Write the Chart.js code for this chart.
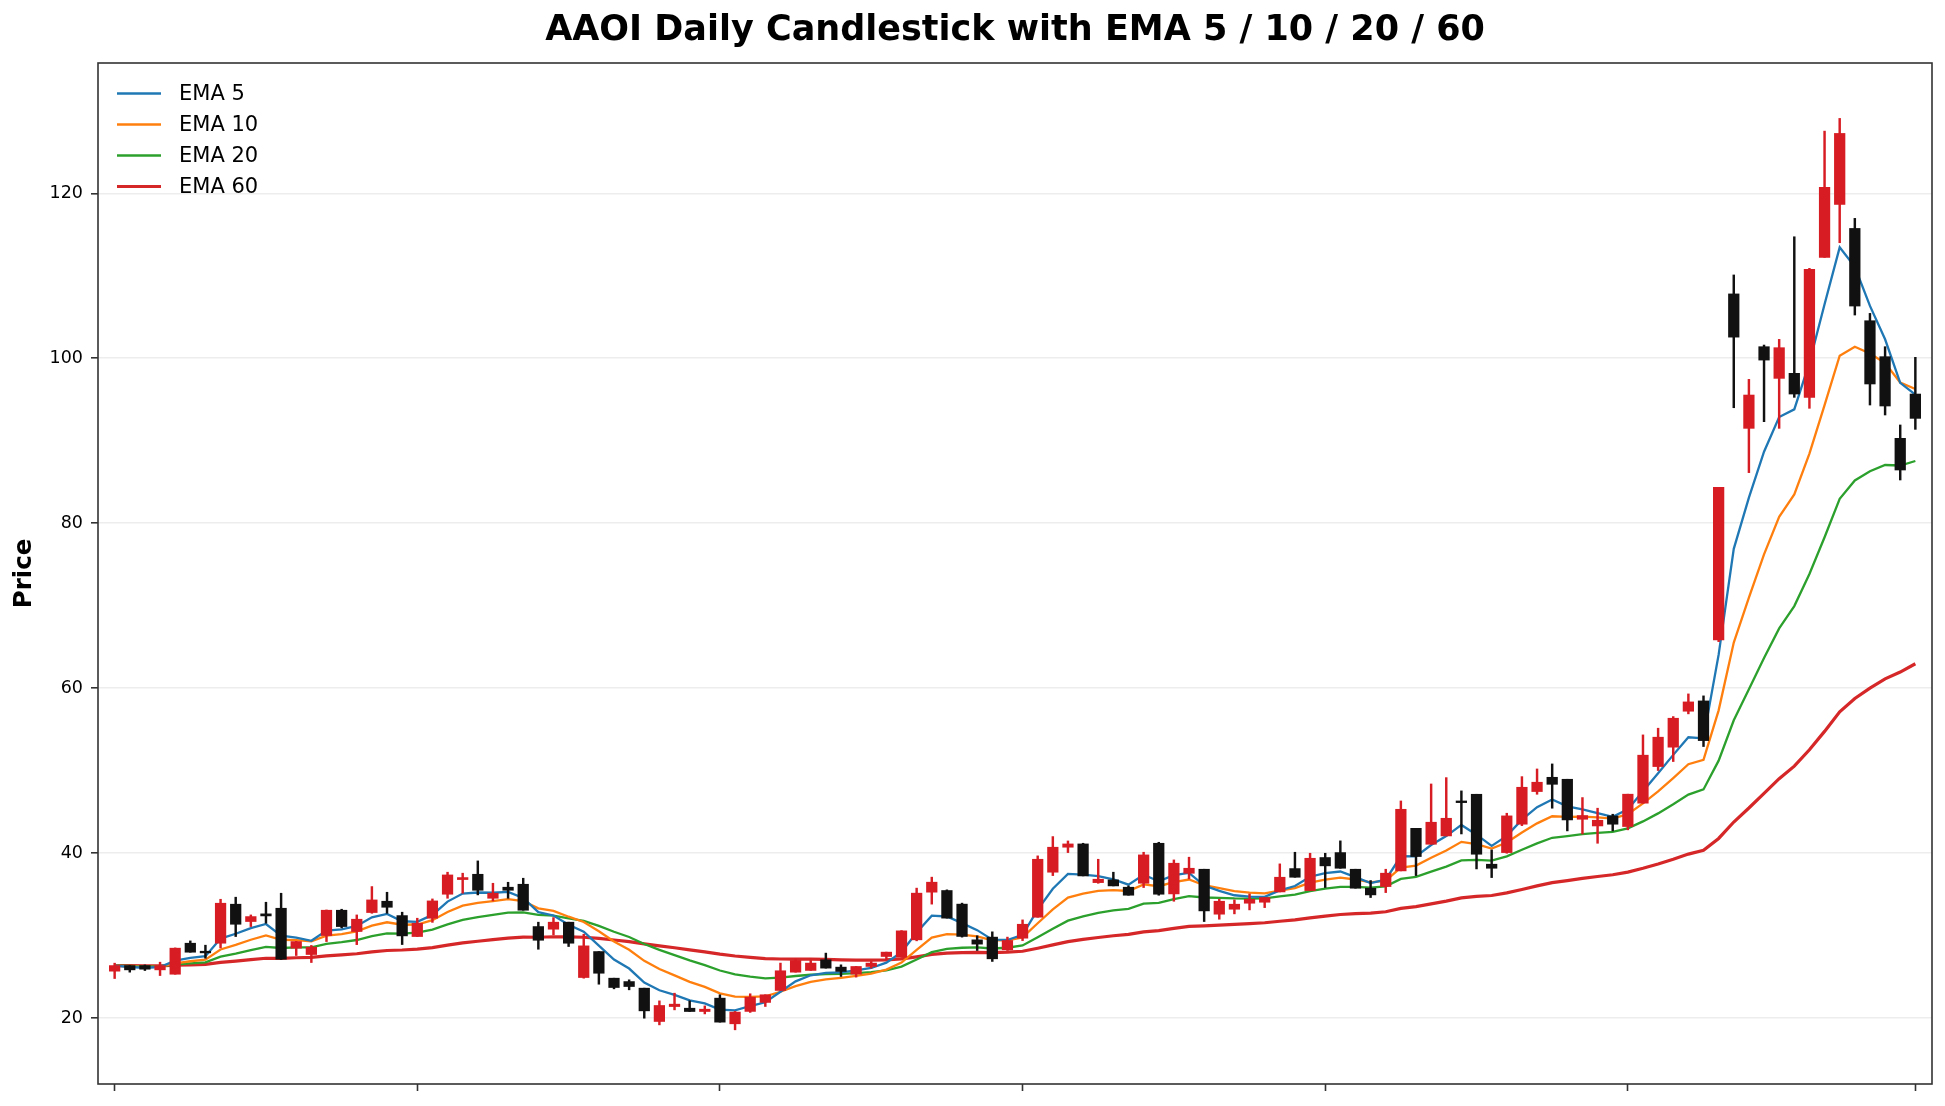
<!DOCTYPE html>
<html>
<head>
<meta charset="utf-8">
<title>AAOI Daily Candlestick with EMA 5 / 10 / 20 / 60</title>
<script src="https://cdn.jsdelivr.net/npm/chart.js@4.4.1/dist/chart.umd.min.js"></script>
<style>
  html, body { margin: 0; padding: 0; background: #fff; }
  #wrap { width: 1945px; height: 1106px; }
</style>
</head>
<body>
<div id="wrap"><canvas id="myChart"></canvas></div>
<script>
// daily OHLC, one entry per trading day
const openPrice = [
  25.68, 26.36, 26.36, 25.84, 25.31, 29.07, 28.10, 29.07, 33.80, 31.70,
  32.63, 33.31, 28.47, 27.70, 30.00, 33.07, 30.49, 32.79, 34.16, 32.42,
  29.88, 32.10, 35.01, 36.79, 37.43, 34.52, 35.86, 36.22, 31.09, 30.77,
  31.62, 24.91, 28.06, 24.83, 24.42, 23.62, 19.58, 21.39, 21.19, 20.79,
  22.41, 19.30, 20.80, 21.89, 23.34, 25.56, 25.77, 27.06, 26.17, 25.32,
  26.25, 27.46, 27.38, 29.48, 35.26, 35.46, 33.81, 29.48, 29.81, 28.27,
  29.68, 32.22, 37.68, 40.71, 41.11, 36.42, 36.75, 35.86, 36.34, 41.19,
  35.05, 37.55, 38.04, 32.59, 33.19, 33.92, 34.04, 35.29, 38.12, 35.45,
  39.46, 40.06, 38.04, 35.74, 35.94, 37.84, 43.00, 41.07, 42.08, 46.32,
  47.13, 38.65, 40.06, 43.50, 47.46, 49.19, 48.95, 44.10, 43.29, 44.51,
  43.22, 46.05, 50.49, 52.84, 57.20, 58.45, 65.85, 107.80, 91.50, 101.40,
  97.56, 98.17, 95.26, 112.23, 118.65, 115.74, 104.55, 100.19, 90.29, 95.66
];
const highPrice = [
  26.65, 26.36, 26.44, 26.77, 28.50, 29.35, 28.83, 34.40, 34.65, 32.50,
  34.04, 35.13, 29.30, 28.80, 33.10, 33.19, 32.50, 35.94, 35.25, 32.83,
  32.10, 34.44, 37.68, 37.56, 39.05, 36.34, 36.46, 36.95, 31.62, 32.18,
  31.62, 30.16, 28.06, 24.83, 24.63, 23.62, 22.08, 23.01, 22.08, 21.47,
  22.82, 20.80, 22.94, 22.82, 26.66, 27.14, 26.98, 27.87, 26.45, 26.25,
  26.86, 27.99, 30.60, 35.75, 37.08, 35.54, 33.93, 29.97, 30.45, 29.81,
  31.90, 39.66, 42.00, 41.47, 41.19, 39.25, 37.68, 36.02, 40.10, 41.31,
  39.17, 39.50, 38.04, 34.40, 34.32, 35.05, 34.61, 38.69, 40.10, 39.98,
  39.98, 41.48, 38.04, 36.67, 38.04, 46.32, 43.00, 48.38, 49.15, 47.54,
  47.13, 40.38, 44.83, 49.27, 50.20, 50.81, 48.95, 46.73, 45.44, 44.71,
  47.14, 54.33, 55.14, 56.55, 59.30, 59.06, 84.35, 110.10, 97.44, 101.60,
  102.29, 114.73, 110.90, 127.54, 129.08, 116.96, 105.44, 101.40, 91.91, 100.11
];
const lowPrice = [
  24.79, 25.56, 25.76, 25.15, 25.31, 27.98, 27.25, 28.50, 29.88, 31.09,
  31.50, 27.10, 27.58, 26.73, 29.27, 30.93, 28.90, 32.70, 32.70, 28.91,
  29.88, 31.60, 34.52, 35.13, 34.93, 34.20, 34.52, 33.07, 28.34, 30.08,
  28.67, 24.83, 24.10, 23.54, 23.42, 19.98, 19.17, 20.99, 20.79, 20.50,
  19.50, 18.57, 20.68, 21.40, 23.34, 25.56, 25.77, 26.05, 25.04, 24.96,
  26.05, 27.06, 27.38, 29.36, 33.81, 32.11, 29.81, 28.19, 26.86, 28.19,
  29.39, 32.22, 37.27, 40.06, 37.23, 36.34, 36.02, 34.89, 35.82, 34.89,
  34.16, 36.87, 31.70, 31.98, 32.63, 33.11, 33.39, 35.29, 37.07, 35.45,
  35.82, 38.16, 35.74, 34.61, 35.21, 37.84, 37.27, 41.07, 42.08, 42.32,
  38.08, 37.03, 39.98, 43.33, 47.13, 45.44, 42.69, 42.32, 41.19, 42.69,
  42.82, 46.05, 50.01, 51.10, 56.88, 52.92, 65.64, 94.00, 86.13, 92.31,
  91.50, 95.26, 93.93, 112.23, 114.01, 105.24, 94.33, 93.12, 85.24, 91.38
];
const closePrice = [
  26.36, 25.84, 25.92, 26.36, 28.47, 27.98, 27.90, 33.92, 31.37, 32.30,
  32.38, 27.13, 29.27, 28.60, 33.07, 31.09, 31.98, 34.32, 33.43, 29.96,
  31.49, 34.20, 37.35, 37.03, 35.49, 35.13, 35.49, 33.07, 29.43, 31.62,
  29.07, 28.75, 25.43, 23.70, 23.82, 20.87, 21.52, 21.68, 20.79, 21.07,
  19.50, 20.72, 22.53, 22.82, 25.73, 26.98, 26.66, 26.05, 25.65, 26.25,
  26.66, 27.99, 30.57, 35.14, 36.47, 32.11, 29.89, 28.96, 27.18, 29.40,
  31.37, 39.25, 40.71, 41.11, 37.23, 36.83, 36.02, 34.89, 39.78, 35.01,
  38.77, 38.16, 32.99, 34.16, 33.80, 34.40, 34.61, 37.07, 37.07, 39.37,
  38.45, 38.16, 35.74, 34.93, 37.56, 45.31, 39.58, 43.74, 44.22, 46.12,
  39.86, 38.16, 44.51, 47.98, 48.59, 48.34, 44.02, 44.55, 43.98, 43.50,
  47.14, 51.87, 54.05, 56.35, 58.33, 53.64, 84.35, 102.56, 95.54, 99.78,
  101.28, 95.66, 110.78, 120.71, 127.26, 106.33, 96.88, 94.21, 86.45, 92.71
];

const emaSpans = [5, 10, 20, 60];
const emaColors = ['#1f77b4', '#ff7f0e', '#2ca02c', '#d62728'];
const yTicks = [20, 40, 60, 80, 100, 120];
const xTicks = [0, 20, 40, 60, 80, 100, 119];

const UP = '#d71d23';
const DOWN = '#111111';

// EMA of the closes (same as pandas ewm(span, adjust=False))
function ema(values, span) {
  const k = 2 / (span + 1);
  const out = [values[0]];
  for (let i = 1; i < values.length; i++) {
    out.push(values[i] * k + out[i - 1] * (1 - k));
  }
  return out;
}

const candleColors = closePrice.map((c, i) => c >= openPrice[i] ? UP : DOWN);

const bodies = closePrice.map((c, i) => ({ x: i, y: [openPrice[i], c] }));
const wicks = closePrice.map((c, i) => ({ x: i, y: [lowPrice[i], highPrice[i]] }));

const emaSets = emaSpans.map((span, j) => {
  const vals = ema(closePrice, span);
  return {
    type: 'line',
    label: 'EMA ' + span,
    data: vals.map((v, i) => ({ x: i, y: v })),
    borderColor: emaColors[j],
    backgroundColor: emaColors[j],
    borderWidth: span === 60 ? 3.2 : 2.3,
    pointRadius: 0,
    tension: 0,
    order: 2 + j,
  };
});

const chromePlugin = {
  id: 'chrome',
  afterDraw(chart) {
    const { ctx, chartArea } = chart;
    const { left, right, top, bottom } = chartArea;
    ctx.save();

    // frame
    ctx.strokeStyle = '#333';
    ctx.lineWidth = 1.6;
    ctx.strokeRect(left, top, right - left, bottom - top);

    // title
    ctx.fillStyle = '#000';
    ctx.font = 'bold 35px "DejaVu Sans"';
    ctx.textAlign = 'center';
    ctx.textBaseline = 'middle';
    ctx.fillText('AAOI Daily Candlestick with EMA 5 / 10 / 20 / 60', (left + right) / 2, 31);

    // legend, upper left inside the axes
    ctx.font = '21px "DejaVu Sans"';
    ctx.textAlign = 'left';
    emaSets.forEach((ds, k) => {
      const y = top + 30.5 + k * 31;
      ctx.strokeStyle = ds.borderColor;
      ctx.lineWidth = ds.borderWidth;
      ctx.beginPath();
      ctx.moveTo(left + 19, y);
      ctx.lineTo(left + 63, y);
      ctx.stroke();
      ctx.fillStyle = '#000';
      ctx.fillText(ds.label, left + 81, y + 1);
    });
    ctx.restore();
  }
};

var ctx = document.getElementById('myChart').getContext('2d');
var myChart = new Chart(ctx, {
  type: 'bar',
  data: {
    datasets: [
      {
        label: 'body',
        data: bodies,
        backgroundColor: candleColors,
        borderWidth: 0,
        barThickness: 10.6,
        grouped: false,
        order: 0,
      },
      {
        label: 'wick',
        data: wicks,
        backgroundColor: candleColors,
        borderWidth: 0,
        barThickness: 1.8,
        grouped: false,
        order: 1,
      },
      ...emaSets,
    ],
  },
  options: {
    responsive: true,
    maintainAspectRatio: false,
    animation: false,
    layout: {
      padding: { top: 63, right: 13, left: 0, bottom: 0 },
    },
    plugins: {
      legend: { display: false },
      tooltip: { enabled: false },
      title: { display: false },
    },
    scales: {
      x: {
        type: 'linear',
        min: -1.1,
        max: 120.1,
        offset: false,
        afterBuildTicks: (scale) => { scale.ticks = xTicks.map(v => ({ value: v })); },
        afterFit: (scale) => { scale.height = 22; },
        ticks: { callback: () => '', padding: 0 },
        grid: {
          offset: false,
          drawOnChartArea: false,
          drawTicks: true,
          tickLength: 7,
          tickColor: '#333',
          tickWidth: 1.6,
        },
        border: { display: false },
      },
      y: {
        min: 12,
        max: 135.8,
        afterBuildTicks: (scale) => { scale.ticks = yTicks.map(v => ({ value: v })); },
        afterFit: (scale) => { scale.width = 98; },
        ticks: {
          color: '#000',
          padding: 8,
          font: { family: 'DejaVu Sans', size: 17.5 },
        },
        grid: {
          color: 'rgba(0,0,0,0.07)',
          lineWidth: 1.6,
          tickLength: 7,
          tickColor: '#333',
          tickWidth: 1.6,
        },
        border: { display: false },
        title: {
          display: true,
          text: 'Price',
          color: '#000',
          padding: { top: 10, bottom: 0 },
          font: { family: 'DejaVu Sans', size: 24.5, weight: 'bold' },
        },
      },
    },
  },
  plugins: [chromePlugin],
});
</script>
</body>
</html>
